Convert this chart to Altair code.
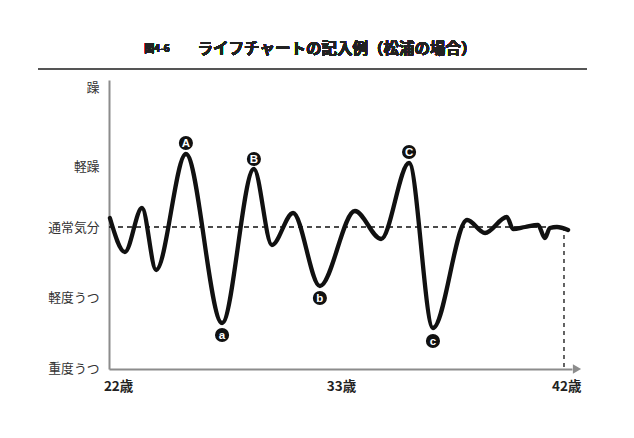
import altair as alt
import pandas as pd

# ---- data ----
ages = [22.04, 22.70, 23.45, 24.07, 25.38, 26.97, 28.37, 29.16, 30.09, 31.27,
        32.81, 33.96, 35.19, 36.24, 37.74, 38.53, 39.49, 39.76, 40.29, 40.86,
        41.16, 41.38, 41.69, 42.18]
mood = [0.9, -2.5, 1.9, -4.3, 7.3, -9.6, 5.8, -1.8, 1.4, -5.9,
        1.6, -1.2, 6.4, -10.1, 0.7, -0.6, 1.0, -0.2, 0.0, 0.2,
        -1.1, -0.1, 0.0, -0.3]

mark_letters = ["A", "a", "B", "b", "C", "c"]
mark_ages = [25.38, 26.97, 28.37, 31.27, 35.19, 36.24]
mark_mood = [8.4, -10.8, 6.8, -7.1, 7.5, -11.4]

y_tick_pos = [14.0, 6.1, 0.0, -7.0, -14.1]
y_tick_labels = ["躁", "軽躁", "通常気分", "軽度うつ", "重度うつ"]
x_tick_pos = [22.4, 32.2, 42.1]
x_tick_labels = ["22歳", "33歳", "42歳"]

title_fig = "図4-6"
title_main = "ライフチャートの記入例（松浦の場合）"

X_DOM = [22, 42.352]
Y_DOM = [-14.2, 14.7]
FONT = "Noto Sans CJK JP"
AXIS_GRAY = "#8c8c8c"

curve_df = pd.DataFrame({"age": ages, "mood": mood})
marks_df = pd.DataFrame({"age": mark_ages, "mood": mark_mood, "letter": mark_letters})
normal_df = pd.DataFrame({"age": [X_DOM[0], 42.0], "mood": [0.0, 0.0]})
vert_df = pd.DataFrame({"age": [42.0], "mood": [0.0], "mood2": [Y_DOM[0]]})
arrow_df = pd.DataFrame({"age": [X_DOM[1] + 0.22], "mood": [Y_DOM[0]]})

y_label_expr = "{}[indexof({}, datum.value)]".format(
    "[" + ",".join("'%s'" % s for s in y_tick_labels) + "]",
    "[" + ",".join(str(v) for v in y_tick_pos) + "]")
x_label_expr = "{}[indexof({}, datum.value)]".format(
    "[" + ",".join("'%s'" % s for s in x_tick_labels) + "]",
    "[" + ",".join(str(v) for v in x_tick_pos) + "]")

xs = alt.Scale(domain=X_DOM, nice=False, zero=False)
ys = alt.Scale(domain=Y_DOM, nice=False, zero=False)

x_enc = alt.X("age:Q", scale=xs, axis=alt.Axis(
    values=x_tick_pos, labelExpr=x_label_expr, title=None, grid=False, ticks=False,
    domainColor=AXIS_GRAY, domainWidth=2, labelFont=FONT, labelFontSize=13.5,
    labelFontWeight="bold", labelColor="#222", labelPadding=10))
y_enc = alt.Y("mood:Q", scale=ys, axis=alt.Axis(
    values=y_tick_pos, labelExpr=y_label_expr, title=None, grid=False, ticks=False,
    domainColor=AXIS_GRAY, domainWidth=2, labelFont=FONT, labelFontSize=12.8,
    labelColor="#333", labelPadding=10))

base_axes = alt.Chart(curve_df).mark_line(opacity=0).encode(x=x_enc, y=y_enc)

normal_line = alt.Chart(normal_df).mark_line(
    color="#111", strokeWidth=1.4, strokeDash=[5, 4]).encode(
    x=alt.X("age:Q", scale=xs), y=alt.Y("mood:Q", scale=ys))

vert_line = alt.Chart(vert_df).mark_rule(
    color="#111", strokeWidth=1.3, strokeDash=[4, 4]).encode(
    x=alt.X("age:Q", scale=xs), y=alt.Y("mood:Q", scale=ys), y2="mood2:Q")

curve = alt.Chart(curve_df).mark_line(
    color="#111", strokeWidth=4.3, interpolate="monotone",
    strokeCap="round", strokeJoin="round").encode(
    x=alt.X("age:Q", scale=xs), y=alt.Y("mood:Q", scale=ys))

dots = alt.Chart(marks_df).mark_point(
    shape="circle", filled=True, color="#111", opacity=1, size=200).encode(
    x=alt.X("age:Q", scale=xs), y=alt.Y("mood:Q", scale=ys))

letters = alt.Chart(marks_df).mark_text(
    color="white", font="Liberation Sans", fontWeight="bold", fontSize=11.5,
    baseline="middle", align="center", dy=0.5).encode(
    x=alt.X("age:Q", scale=xs), y=alt.Y("mood:Q", scale=ys), text="letter:N")

arrow = alt.Chart(arrow_df).mark_point(
    shape="triangle-right", filled=True, color=AXIS_GRAY, opacity=1, size=90,
    clip=False).encode(
    x=alt.X("age:Q", scale=xs), y=alt.Y("mood:Q", scale=ys))

title_a = alt.Chart(curve_df).mark_text(
    text=title_fig, font=FONT, fontSize=10, fontWeight="bold", color="#222",
    align="center", baseline="middle").encode(x=alt.value(48), y=alt.value(-31))
title_b = alt.Chart(curve_df).mark_text(
    text=title_main, font=FONT, fontSize=15.5, fontWeight="bold", color="#222",
    align="center", baseline="middle").encode(x=alt.value(228), y=alt.value(-31))
title_rule = alt.Chart(curve_df).mark_rule(color="#555", strokeWidth=2).encode(
    x=alt.value(-71), x2=alt.value(478), y=alt.value(-11))

chart = alt.layer(
    base_axes, normal_line, vert_line, curve, dots, letters, arrow,
    title_a, title_b, title_rule
).properties(
    width=463, height=289,
    autosize=alt.AutoSizeParams(type="none"),
    padding={"left": 101, "top": 72, "right": 54, "bottom": 61},
    background="white",
).configure_view(stroke=None)

chart.save("out.html", embed_options={"renderer": "svg", "actions": False})
